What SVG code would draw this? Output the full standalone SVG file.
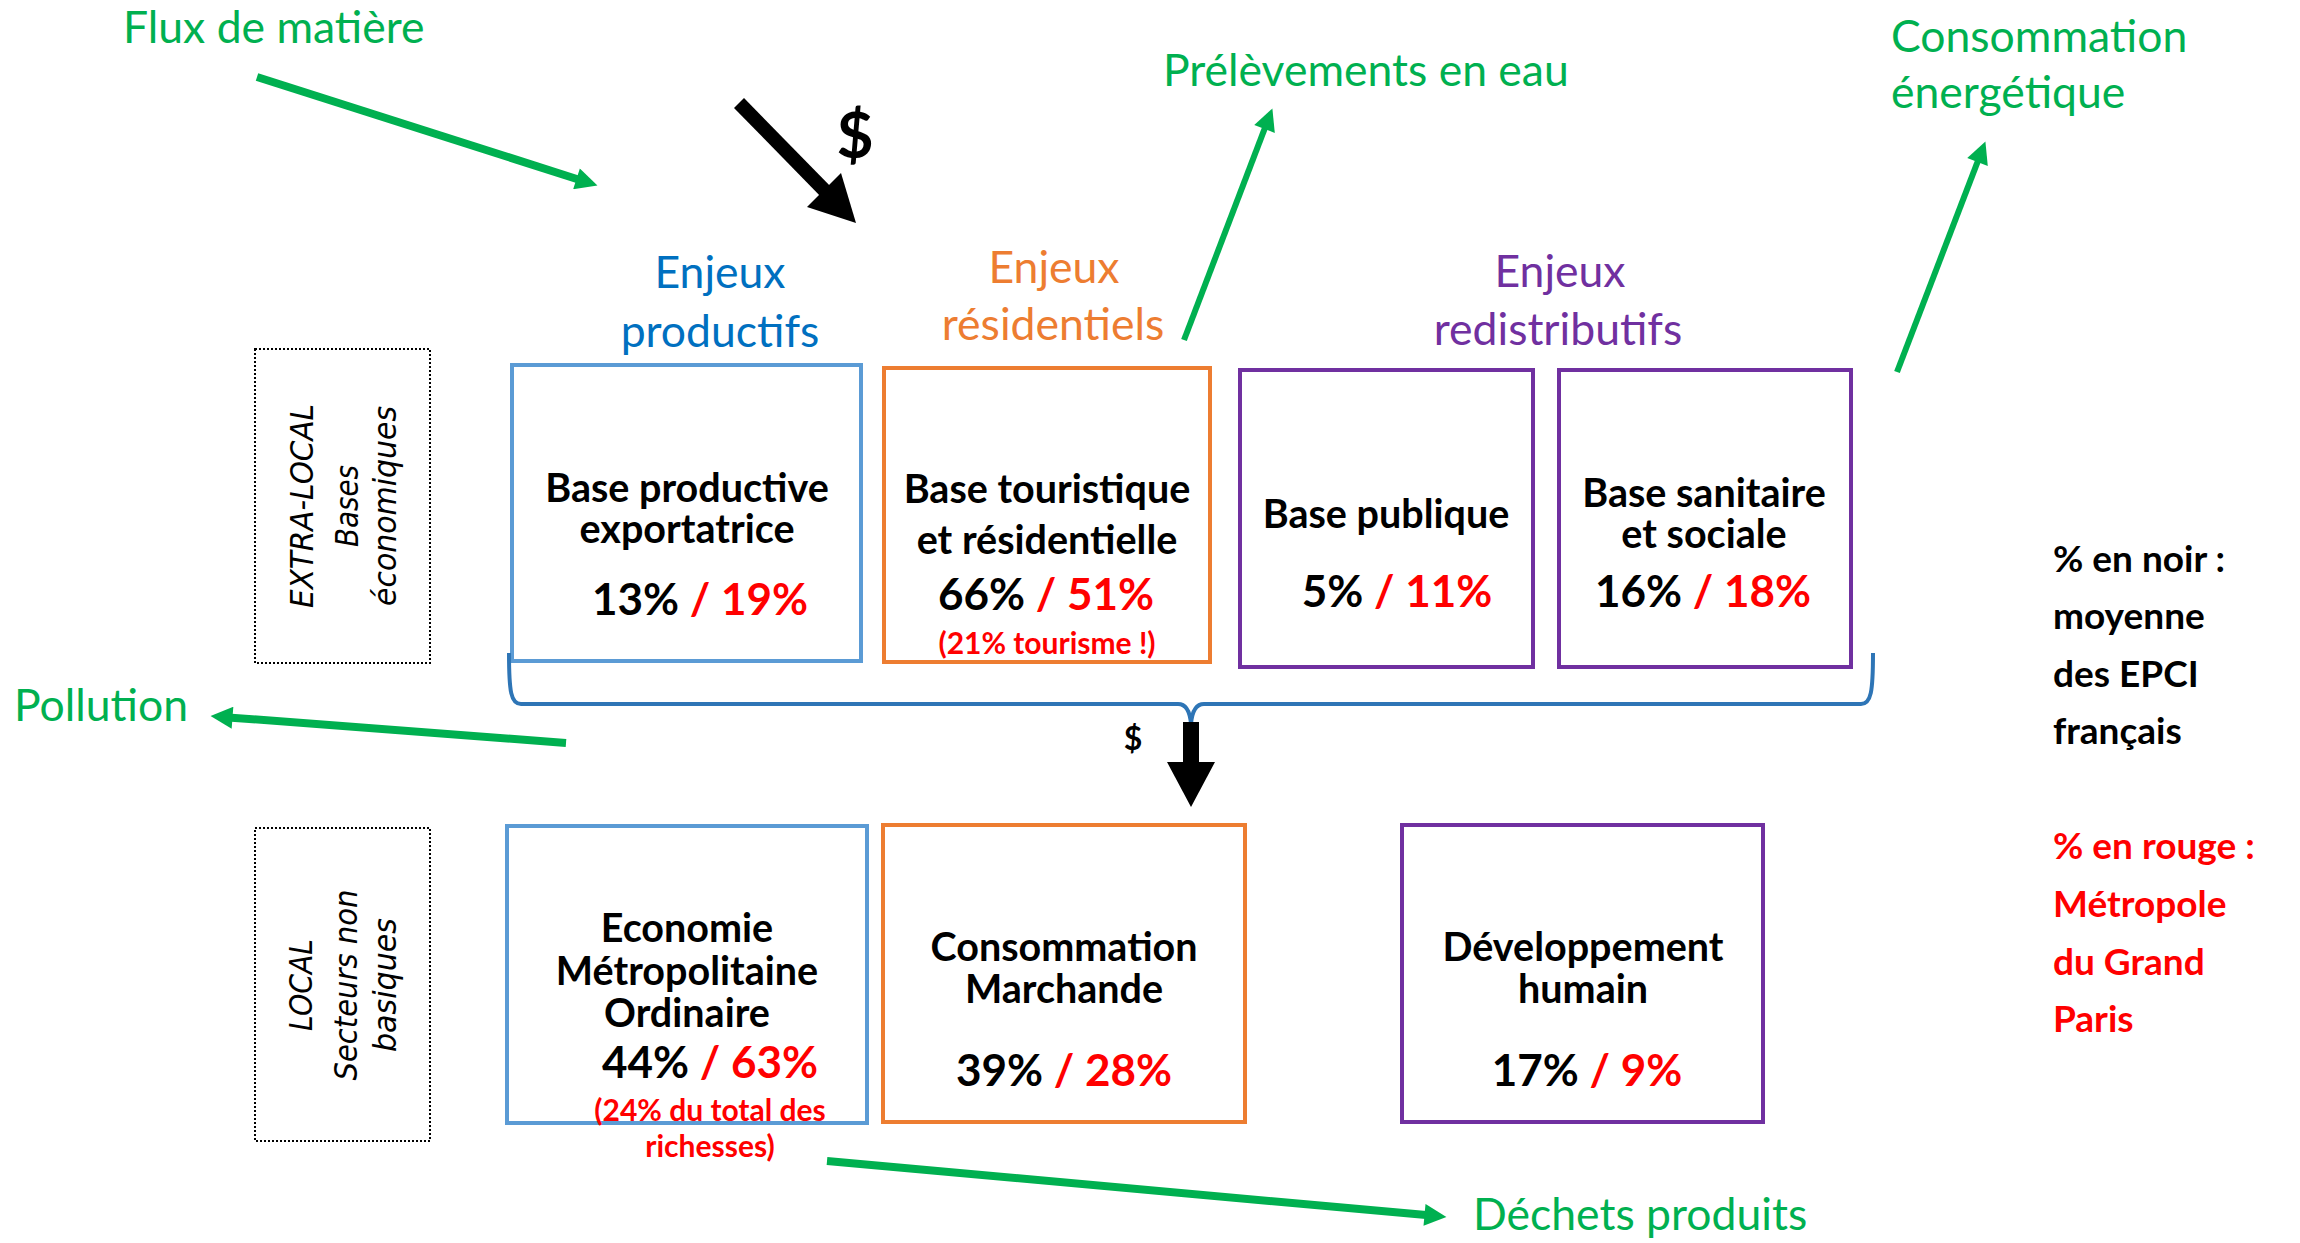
<svg xmlns="http://www.w3.org/2000/svg" width="2300" height="1243" viewBox="0 0 2300 1243">
<style>
text{font-family:Lato,"Liberation Sans",sans-serif}
.g{fill:#00B050;font-size:44.5px}
.t{font-weight:bold;fill:#000;font-size:39.5px;text-anchor:middle}
.p{font-weight:bold;fill:#000;font-size:44px;text-anchor:middle}
.r{fill:#FF0000}
.n{font-weight:bold;fill:#FF0000;font-size:30px;text-anchor:middle}
.e{font-size:44.5px;text-anchor:middle}
.v{font-family:"DejaVu Sans",Verdana,sans-serif;font-style:italic;font-size:32px;fill:#000;text-anchor:middle}
.leg{font-weight:bold;font-size:37px}
.box{fill:#fff;stroke-width:4}
.dot{fill:none;stroke:#000;stroke-width:2;stroke-dasharray:2 2}
.ga{stroke:#00B050;fill:none;marker-end:url(#gh)}
</style>
<defs>
<marker id="gh" viewBox="0 0 10 10" refX="2" refY="5" markerWidth="24" markerHeight="22" orient="auto" markerUnits="userSpaceOnUse">
<path d="M0,0 L10,5 L0,10 z" fill="#00B050"/>
</marker>
</defs>
<rect width="2300" height="1243" fill="#fff"/>

<g id="labels-green">
<text class="g" x="123" y="43">Flux de matière</text>
<text class="g" x="1163" y="86">Prélèvements en eau</text>
<text class="g" x="1891" y="52">Consommation</text>
<text class="g" x="1891" y="108">énergétique</text>
<text class="g" x="14" y="721">Pollution</text>
<text class="g" x="1473" y="1230">Déchets produits</text>
</g>

<g id="enjeux">
<text class="e" fill="#0070C0" x="720" y="288">Enjeux</text>
<text class="e" fill="#0070C0" x="720" y="347">productifs</text>
<text class="e" fill="#ED7D31" x="1054" y="283">Enjeux</text>
<text class="e" fill="#ED7D31" x="1053" y="340">résidentiels</text>
<text class="e" fill="#7030A0" x="1560" y="287">Enjeux</text>
<text class="e" fill="#7030A0" x="1558" y="345">redistributifs</text>
</g>

<g id="extra-local">
<rect class="dot" x="255" y="349" width="175" height="314"/>
<text class="v" transform="translate(313,506) rotate(-90)" textLength="204" lengthAdjust="spacingAndGlyphs">EXTRA-LOCAL</text>
<text class="v" transform="translate(358,506) rotate(-90)" textLength="82" lengthAdjust="spacingAndGlyphs">Bases</text>
<text class="v" transform="translate(396,506) rotate(-90)" textLength="200" lengthAdjust="spacingAndGlyphs">économiques</text>
</g>

<g id="local">
<rect class="dot" x="255" y="828" width="175" height="313"/>
<text class="v" transform="translate(312,985) rotate(-90)" textLength="92" lengthAdjust="spacingAndGlyphs">LOCAL</text>
<text class="v" transform="translate(357,985) rotate(-90)" textLength="191" lengthAdjust="spacingAndGlyphs">Secteurs non</text>
<text class="v" transform="translate(396,985) rotate(-90)" textLength="134" lengthAdjust="spacingAndGlyphs">basiques</text>
</g>

<g id="base-productive">
<rect class="box" stroke="#5B9BD5" x="512" y="365" width="349" height="296"/>
<text class="t" x="687" y="502">Base productive</text>
<text class="t" x="687" y="543">exportatrice</text>
<text class="p" x="700" y="615">13% <tspan class="r">/ 19%</tspan></text>
</g>

<g id="base-touristique">
<rect class="box" stroke="#ED7D31" x="884" y="368" width="326" height="294"/>
<text class="t" x="1047" y="503">Base touristique</text>
<text class="t" x="1047" y="554">et résidentielle</text>
<text class="p" x="1046" y="610">66% <tspan class="r">/ 51%</tspan></text>
<text class="n" x="1047" y="654">(21% tourisme !)</text>
</g>

<g id="base-publique">
<rect class="box" stroke="#7030A0" x="1240" y="370" width="293" height="297"/>
<text class="t" x="1386" y="528">Base publique</text>
<text class="p" x="1397" y="607">5% <tspan class="r">/ 11%</tspan></text>
</g>

<g id="base-sanitaire">
<rect class="box" stroke="#7030A0" x="1559" y="370" width="292" height="297"/>
<text class="t" x="1704" y="507">Base sanitaire</text>
<text class="t" x="1704" y="548">et sociale</text>
<text class="p" x="1703" y="607">16% <tspan class="r">/ 18%</tspan></text>
</g>

<g id="economie-metropolitaine">
<rect class="box" stroke="#5B9BD5" x="507" y="826" width="360" height="297"/>
<text class="t" x="687" y="942">Economie</text>
<text class="t" x="687" y="985">Métropolitaine</text>
<text class="t" x="687" y="1027">Ordinaire</text>
<text class="p" x="710" y="1078">44% <tspan class="r">/ 63%</tspan></text>
<text class="n" x="710" y="1121">(24% du total des</text>
<text class="n" x="710" y="1157">richesses)</text>
</g>

<g id="consommation-marchande">
<rect class="box" stroke="#ED7D31" x="883" y="825" width="362" height="297"/>
<text class="t" x="1064" y="961">Consommation</text>
<text class="t" x="1064" y="1003">Marchande</text>
<text class="p" x="1064" y="1086">39% <tspan class="r">/ 28%</tspan></text>
</g>

<g id="developpement-humain">
<rect class="box" stroke="#7030A0" x="1402" y="825" width="361" height="297"/>
<text class="t" x="1583" y="961">Développement</text>
<text class="t" x="1583" y="1003">humain</text>
<text class="p" x="1587" y="1086">17% <tspan class="r">/ 9%</tspan></text>
</g>

<g id="legende">
<text class="leg" fill="#000" x="2053" y="572">% en noir :</text>
<text class="leg" fill="#000" x="2053" y="629">moyenne</text>
<text class="leg" fill="#000" x="2053" y="687">des EPCI</text>
<text class="leg" fill="#000" x="2053" y="744">français</text>
<text class="leg" fill="#FF0000" x="2053" y="859">% en rouge :</text>
<text class="leg" fill="#FF0000" x="2053" y="917">Métropole</text>
<text class="leg" fill="#FF0000" x="2053" y="975">du Grand</text>
<text class="leg" fill="#FF0000" x="2053" y="1032">Paris</text>
</g>

<g id="connectors">
<path d="M509,653 C509,692 511,704 521,704 L1178,704 C1186,704 1190,712 1191,724 C1192,712 1196,704 1204,704 L1861,704 C1871,704 1873,692 1873,653" fill="none" stroke="#2E75B6" stroke-width="4"/>
<rect x="1183" y="722" width="16" height="42" fill="#000"/>
<polygon points="1167,762 1215,762 1191,807" fill="#000"/>
<text x="1133" y="750" font-size="32" font-weight="bold" text-anchor="middle" fill="#000">$</text>
<line x1="739" y1="103" x2="830" y2="196" stroke="#000" stroke-width="14"/>
<polygon points="856,223 807,207 841,173" fill="#000"/>
<text x="855" y="158" font-size="64" font-weight="bold" text-anchor="middle" fill="#000">$</text>
<line class="ga" stroke-width="8" x1="257" y1="77" x2="580.7" y2="180.2"/>
<line class="ga" stroke-width="6" x1="1184" y1="340" x2="1266.1" y2="124.9"/>
<line class="ga" stroke-width="6" x1="1897" y1="372" x2="1979.1" y2="157.9"/>
<line class="ga" stroke-width="8" x1="566" y1="743" x2="228.1" y2="717.4"/>
<line class="ga" stroke-width="8" x1="827" y1="1161" x2="1428.9" y2="1215.3"/>
</g>
</svg>
